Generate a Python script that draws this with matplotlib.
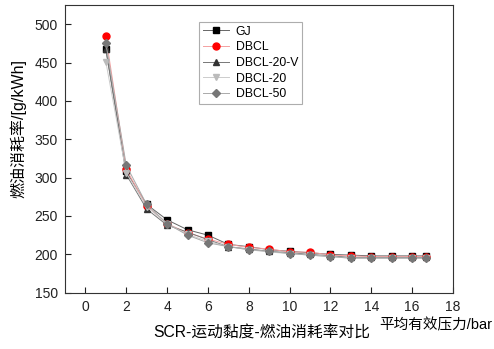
import matplotlib

matplotlib.use("Agg")

import matplotlib.pyplot as plt

plt.rcParams["font.family"] = ["Liberation Sans", "Noto Sans CJK SC", "DejaVu Sans"]

# mean effective pressure / bar
pressure = [1, 2, 3, 4, 5, 6, 7, 8, 9, 10, 11, 12, 13, 14, 15, 16, 16.7]

gj = [468, 308, 265, 245, 232, 225, 213, 210, 206, 204, 202, 200, 199, 198, 198, 198, 198]
dbcl = [484, 311, 263, 240, 228, 220, 213, 209, 207, 203, 203, 199, 198, 197, 197, 197, 197]
dbcl_20_v = [467, 304, 259, 238, 229, 219, 210, 207, 204, 202, 200, 198, 196, 196, 196, 196, 196]
dbcl_20 = [451, 306, 262, 240, 226, 217, 210, 206, 203, 201, 199, 197, 195, 195, 195, 195, 195]
dbcl_50 = [475, 316, 265, 240, 225, 215, 210, 206, 204, 201, 199, 197, 195, 195, 195, 195, 195]

series = [
    ("GJ", gj, "s", "black", "#666666"),
    ("DBCL", dbcl, "o", "red", "#f4a0a0"),
    ("DBCL-20-V", dbcl_20_v, "^", "#333333", "#777777"),
    ("DBCL-20", dbcl_20, "v", "#bbbbbb", "#cccccc"),
    ("DBCL-50", dbcl_50, "D", "#777777", "#aaaaaa"),
]

fig = plt.figure(figsize=(4.94, 3.49), dpi=100)
ax = fig.add_axes([0.1316, 0.1613, 0.7854, 0.8244])

for name, vals, mk, mc, lc in series:
    ax.plot(pressure, vals, color=lc, lw=0.7, marker=mk, ms=5 if mk != "D" else 4.5,
            markerfacecolor=mc, markeredgecolor=mc, label=name)

ax.set_xlim(-1, 18)
ax.set_ylim(150, 525)
ax.set_xticks(range(0, 19, 2))
ax.set_yticks(range(150, 501, 50))
ax.tick_params(direction="in", labelsize=10, length=4, width=0.8, colors="#222222", pad=5)
for sp in ax.spines.values():
    sp.set_color("#333333")
    sp.set_linewidth(0.8)

leg = ax.legend(loc="upper left", bbox_to_anchor=(0.345, 0.941), fontsize=8.8,
                frameon=True, fancybox=False, handlelength=2.2, handletextpad=0.5,
                borderpad=0.3, labelspacing=0.3, borderaxespad=0)
leg.get_frame().set_edgecolor("#999999")
leg.get_frame().set_linewidth(0.8)

fig.text(0.036, 0.633, "燃油消耗率/[g/kWh]", fontsize=11.5, rotation=90,
         ha="center", va="center")
fig.text(0.997, 0.068, "平均有效压力/bar", fontsize=10.5, ha="right", va="center")
fig.text(0.53, 0.045, "SCR-运动黏度-燃油消耗率对比", fontsize=11.3, ha="center", va="center")

fig.savefig("out.png", dpi=100)
